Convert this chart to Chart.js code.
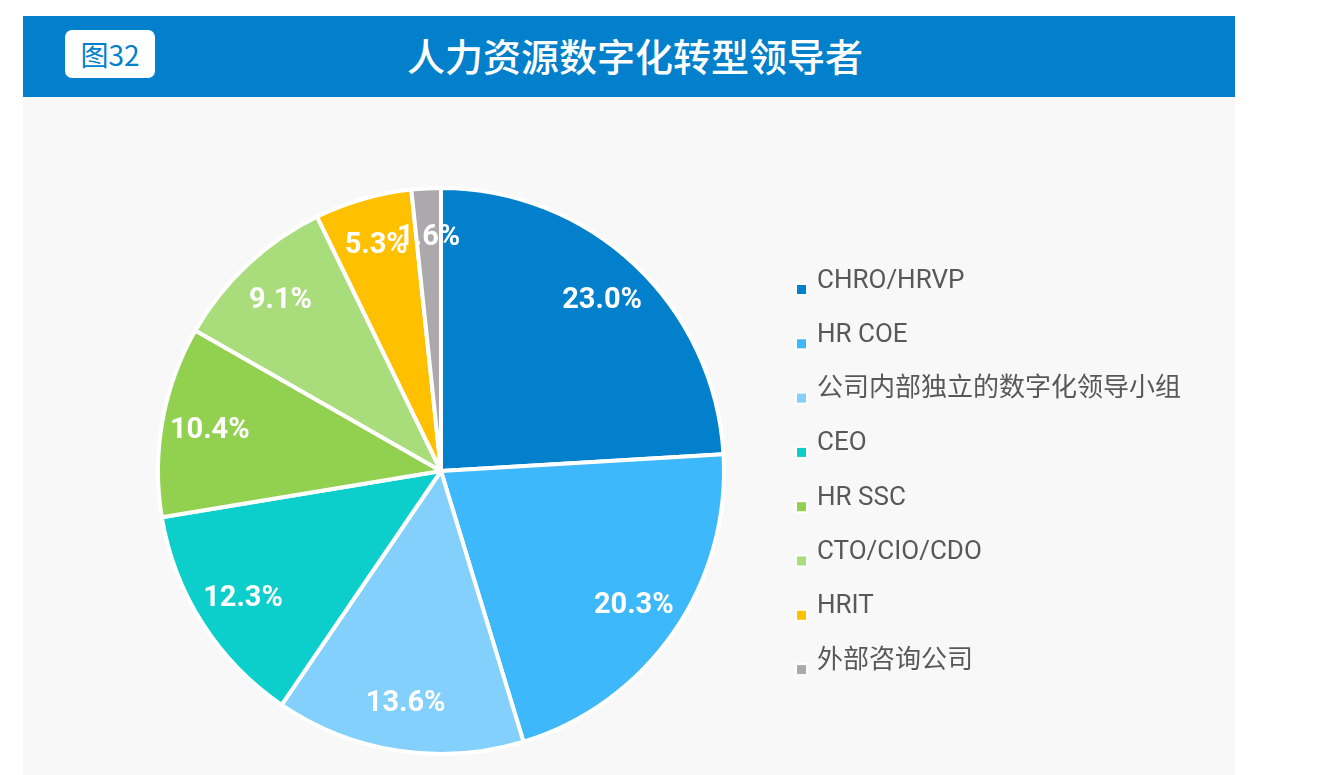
<!DOCTYPE html>
<html lang="zh">
<head>
  <meta charset="UTF-8" />
  <title>人力资源数字化转型领导者</title>
  <script src="https://cdn.jsdelivr.net/npm/chart.js"></script>
  <style>
    body {
      margin: 0;
      background: #ffffff;
      font-family: Roboto, "Noto Sans CJK SC", sans-serif;
    }
    .header {
      position: absolute;
      left: 23px;
      top: 16px;
      width: 1212px;
      height: 81px;
      background: #0280cc;
    }
    .badge {
      position: absolute;
      left: 42px;
      top: 14px;
      width: 90px;
      height: 48px;
      background: #fff;
      border-radius: 7px;
      color: #0280cc;
      font: 28px "Noto Sans CJK SC", sans-serif;
      line-height: 48px;
      text-align: center;
    }
    .title {
      position: absolute;
      left: 0;
      width: 1224px;
      top: 0;
      text-align: center;
      color: #fff;
      font: 500 38px "Noto Sans CJK SC", sans-serif;
      line-height: 78px;
    }
    .panel {
      position: absolute;
      left: 23px;
      top: 97px;
      width: 1212px;
      height: 678px;
      background: #f8f8f8;
    }
  </style>
</head>
<body>
  <div class="header">
    <div class="badge">图32</div>
    <div class="title">人力资源数字化转型领导者</div>
  </div>
  <div class="panel">
    <canvas id="pie" width="1212" height="678"></canvas>
  </div>

  <script>
    const labels = ['CHRO/HRVP', 'HR COE', '公司内部独立的数字化领导小组', 'CEO', 'HR SSC', 'CTO/CIO/CDO', 'HRIT', '外部咨询公司'];
    const values = [23.0, 20.3, 13.6, 12.3, 10.4, 9.1, 5.3, 1.6];
    const colors = ['#0280cc', '#3db8fa', '#84d0fc', '#0ccfcb', '#92d050', '#a9dc7a', '#ffc000', '#aba9ab'];

    // percentage labels inside the slices
    const sliceLabels = {
      id: 'sliceLabels',
      afterDatasetsDraw(chart) {
        const ctx = chart.ctx;
        const meta = chart.getDatasetMeta(0);
        ctx.save();
        ctx.fillStyle = '#ffffff';
        ctx.font = 'bold 29px Roboto, sans-serif';
        ctx.textAlign = 'center';
        ctx.textBaseline = 'middle';
        meta.data.forEach((arc, i) => {
          const p = arc.getProps(['x', 'y', 'startAngle', 'endAngle', 'outerRadius']);
          const mid = (p.startAngle + p.endAngle) / 2;
          const r = p.outerRadius * 0.83;
          ctx.fillText(values[i].toFixed(1) + '%', p.x + Math.cos(mid) * r, p.y + Math.sin(mid) * r + 1);
        });
        ctx.restore();
      }
    };

    // legend on the right, small square sitting at the text baseline
    const sideLegend = {
      id: 'sideLegend',
      afterDraw(chart) {
        const ctx = chart.ctx;
        const items = chart.options.plugins.legend.labels.generateLabels(chart);
        ctx.save();
        ctx.font = '26px Roboto, "Noto Sans CJK SC", sans-serif';
        ctx.textBaseline = 'middle';
        items.forEach((item, i) => {
          const y = 184 + i * 54.3;
          ctx.fillStyle = '#ffffff';
          ctx.fillRect(772, y + 2, 13, 13);
          ctx.fillStyle = item.fillStyle;
          ctx.fillRect(774, y + 4, 9, 9);
          ctx.fillStyle = '#585858';
          ctx.fillText(item.text, 794, y);
        });
        ctx.restore();
      }
    };

    new Chart(document.getElementById('pie'), {
      type: 'pie',
      data: {
        labels: labels,
        datasets: [{
          data: values,
          backgroundColor: colors,
          borderColor: '#ffffff',
          borderWidth: 4,
          radius: 283
        }]
      },
      options: {
        responsive: false,
        animation: false,
        layout: { padding: { left: 134, right: 510, top: 90, bottom: 20 } },
        plugins: {
          legend: { display: false },
          tooltip: { enabled: false }
        }
      },
      plugins: [sliceLabels, sideLegend]
    });
  </script>
</body>
</html>
